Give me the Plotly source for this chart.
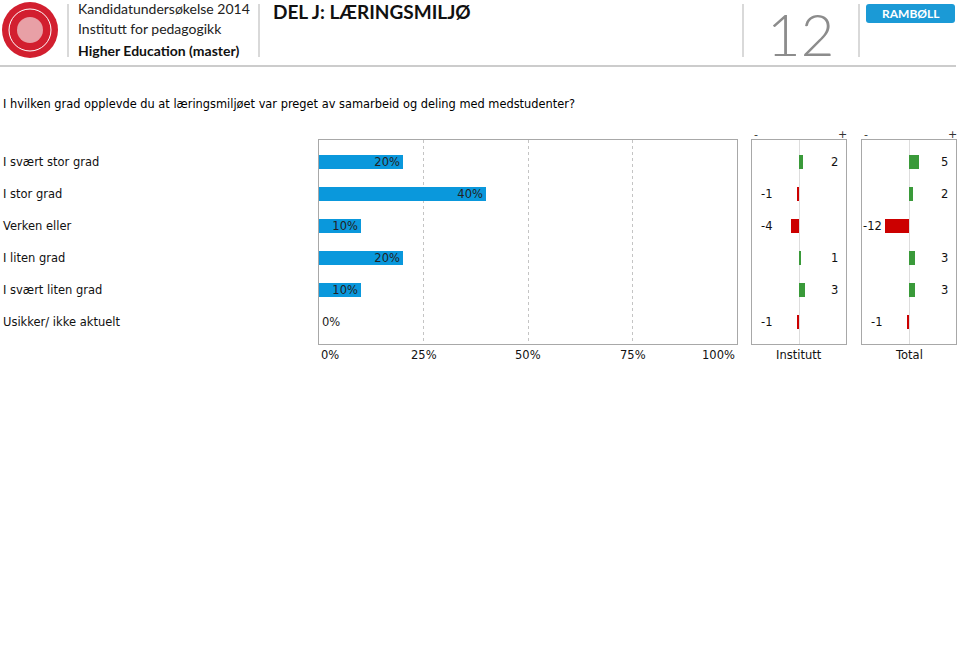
import plotly.graph_objects as go

# ---- data ----
categories = ["I svært stor grad", "I stor grad", "Verken eller",
              "I liten grad", "I svært liten grad", "Usikker/ ikke aktuelt"]
shares = [20, 40, 10, 20, 10, 0]
diff_institutt = [2, -1, -4, 1, 3, -1]
diff_total = [5, 2, -12, 3, 3, -1]
x_ticks = [0, 25, 50, 75, 100]
x_tick_labels = ["0%", "25%", "50%", "75%", "100%"]
question = "I hvilken grad opplevde du at læringsmiljøet var preget av samarbeid og deling med medstudenter?"

W, H = 960, 648
def px(x):
    return x / W
def py(y):
    return 1 - y / H

BLUE = "#0a98dc"
GREEN = "#3a9a3a"
RED = "#cc0000"
BORDER = "#a8a8a8"
TXT = "Verdana, DejaVu Sans, sans-serif"

fig = go.Figure()

ypos = list(range(len(categories)))

# main bars
fig.add_trace(go.Bar(
    x=shares, y=ypos, orientation="h", width=0.44,
    marker=dict(color=BLUE, line=dict(width=0)),
    text=[f"{v}%" for v in shares],
    textposition=["inside" if v > 0 else "outside" for v in shares],
    insidetextanchor="end",
    textfont=dict(family=TXT, size=11.5, color="#222222"),
    constraintext="none", cliponaxis=False,
    xaxis="x", yaxis="y", hoverinfo="skip", showlegend=False,
))

def diff_trace(vals, xa, ya):
    return go.Bar(
        x=vals, y=ypos, orientation="h", width=0.45,
        marker=dict(color=[GREEN if v > 0 else RED for v in vals], line=dict(width=0)),
        xaxis=xa, yaxis=ya, hoverinfo="skip", showlegend=False,
    )

fig.add_trace(diff_trace(diff_institutt, "x2", "y2"))
fig.add_trace(diff_trace(diff_total, "x3", "y3"))

yrange = [5.6875, -0.6875]
ydom = [py(344), py(140)]

common_y = dict(range=yrange, domain=ydom, showticklabels=False, showgrid=False,
                zeroline=False, showline=True, linecolor=BORDER, linewidth=1, mirror=True,
                fixedrange=True)

fig.update_layout(
    width=W, height=H, margin=dict(l=0, r=0, t=0, b=0),
    paper_bgcolor="white", plot_bgcolor="white",
    bargap=0, barmode="overlay",
    xaxis=dict(domain=[px(319), px(737)], range=[0, 100], tickvals=x_ticks,
               showticklabels=False, showgrid=True, gridcolor="#c4c4c4", griddash="dot",
               gridwidth=1, zeroline=False, showline=True, linecolor=BORDER, mirror=True),
    yaxis=dict(anchor="x", **common_y),
    xaxis2=dict(domain=[px(752), px(846)], range=[-23.5, 23.5], showticklabels=False,
                showgrid=False, zeroline=True, zerolinecolor="#dddddd", zerolinewidth=1,
                showline=True, linecolor=BORDER, mirror=True, anchor="y2"),
    yaxis2=dict(anchor="x2", **common_y),
    xaxis3=dict(domain=[px(862), px(956)], range=[-23.5, 23.5], showticklabels=False,
                showgrid=False, zeroline=True, zerolinecolor="#dddddd", zerolinewidth=1,
                showline=True, linecolor=BORDER, mirror=True, anchor="y3"),
    yaxis3=dict(anchor="x3", **common_y),
)

ann = []
# tick labels for main axis
for v, lab in zip(x_ticks, x_tick_labels):
    anchor = "left" if v == x_ticks[0] else ("right" if v == x_ticks[-1] else "center")
    ann.append(dict(x=v, y=py(355), xref="x", yref="paper", text=lab, showarrow=False,
                    xanchor=anchor, yanchor="middle",
                    font=dict(family=TXT, size=11.5, color="#111111")))
# category labels
for i, c in enumerate(categories):
    ann.append(dict(x=px(1), y=i, xref="paper", yref="y", text=c, showarrow=False,
                    xanchor="left", yanchor="middle",
                    font=dict(family=TXT, size=11.5, color="#111111")))
# diff labels
for vals, xr, yr in [(diff_institutt, "x2", "y2"), (diff_total, "x3", "y3")]:
    for i, v in enumerate(vals):
        ann.append(dict(x=20.5 if v > 0 else -12.5, y=i, xref=xr, yref=yr, text=str(v),
                        showarrow=False, xanchor="right", yanchor="middle",
                        font=dict(family=TXT, size=11.5, color="#111111")))
    ann.append(dict(x=-21.5, y=py(134), xref=xr, yref="paper", text="-", showarrow=False,
                    xanchor="center", yanchor="middle", font=dict(family=TXT, size=11, color="#333333")))
    ann.append(dict(x=21.5, y=py(134), xref=xr, yref="paper", text="+", showarrow=False,
                    xanchor="center", yanchor="middle", font=dict(family=TXT, size=11, color="#333333")))
ann.append(dict(x=0, y=py(355), xref="x2", yref="paper", text="Institutt", showarrow=False,
                xanchor="center", yanchor="middle", font=dict(family=TXT, size=11.5, color="#111")))
ann.append(dict(x=0, y=py(355), xref="x3", yref="paper", text="Total", showarrow=False,
                xanchor="center", yanchor="middle", font=dict(family=TXT, size=11.5, color="#111")))

# question
ann.append(dict(x=px(1), y=py(104), xref="paper", yref="paper", text=question, showarrow=False,
                xanchor="left", yanchor="middle", font=dict(family=TXT, size=11.4, color="#000")))

# header
HF = "Lato, Open Sans, sans-serif"
hdr = [
    dict(x=px(76), y=py(9), text="Kandidatundersøkelse 2014", font=dict(family=HF, size=14, color="#222")),
    dict(x=px(76), y=py(29), text="Institutt for pedagogikk", font=dict(family=HF, size=14, color="#222")),
    dict(x=px(76), y=py(50), text="<b>Higher Education (master)</b>", font=dict(family=HF, size=14, color="#111")),
    dict(x=px(271), y=py(12), text="<b>DEL J: LÆRINGSMILJØ</b>", font=dict(family=HF, size=19, color="#111")),
    dict(x=px(800), y=py(33), text="12", xanchor="center", font=dict(family=HF, size=58, color="#8c8c8c", weight=300)),
    dict(x=px(910.5), y=py(13.5), text="<b>RAMBØLL</b>", xanchor="center",
         font=dict(family=HF, size=12, color="white")),
]
for a in hdr:
    a.update(xref="paper", yref="paper", showarrow=False, yanchor="middle")
    a.setdefault("xanchor", "left")
ann += hdr

fig.update_layout(annotations=ann)

# rounded rect path for the Rambøll badge (pixel coords -> paper)
def rrect(x0, y0, x1, y1, r):
    pts = (f"M {px(x0 + r)},{py(y0)} L {px(x1 - r)},{py(y0)} "
           f"Q {px(x1)},{py(y0)} {px(x1)},{py(y0 + r)} L {px(x1)},{py(y1 - r)} "
           f"Q {px(x1)},{py(y1)} {px(x1 - r)},{py(y1)} L {px(x0 + r)},{py(y1)} "
           f"Q {px(x0)},{py(y1)} {px(x0)},{py(y1 - r)} L {px(x0)},{py(y0 + r)} "
           f"Q {px(x0)},{py(y0)} {px(x0 + r)},{py(y0)} Z")
    return pts

shapes = [
    # logo
    dict(type="circle", xref="paper", yref="paper", x0=px(2), x1=px(58), y0=py(58), y1=py(2),
         fillcolor="#d21f2f", line=dict(width=0)),
    dict(type="circle", xref="paper", yref="paper", x0=px(9), x1=px(51), y0=py(51), y1=py(9),
         fillcolor="rgba(0,0,0,0)", line=dict(width=1, color="white")),
    dict(type="circle", xref="paper", yref="paper", x0=px(17), x1=px(43), y0=py(43), y1=py(17),
         fillcolor="#e8a0a6", line=dict(width=0)),
    # separators
    dict(type="line", xref="paper", yref="paper", x0=px(68), x1=px(68), y0=py(4), y1=py(57),
         line=dict(color="#cccccc", width=1.5)),
    dict(type="line", xref="paper", yref="paper", x0=px(259), x1=px(259), y0=py(4), y1=py(57),
         line=dict(color="#cccccc", width=1.5)),
    dict(type="line", xref="paper", yref="paper", x0=px(743), x1=px(743), y0=py(4), y1=py(57),
         line=dict(color="#cccccc", width=1.5)),
    dict(type="line", xref="paper", yref="paper", x0=px(859), x1=px(859), y0=py(4), y1=py(57),
         line=dict(color="#cccccc", width=1.5)),
    dict(type="line", xref="paper", yref="paper", x0=px(0), x1=px(956), y0=py(66), y1=py(66),
         line=dict(color="#cccccc", width=2)),
    # rambøll badge
    dict(type="path", xref="paper", yref="paper", path=rrect(866, 4, 955, 23, 3),
         fillcolor="#1b9ad6", line=dict(width=0)),
]
fig.update_layout(shapes=shapes)

fig.write_html("out.html", config={"displayModeBar": False},
               post_script="document.body.style.margin='0';document.body.style.padding='0';")
